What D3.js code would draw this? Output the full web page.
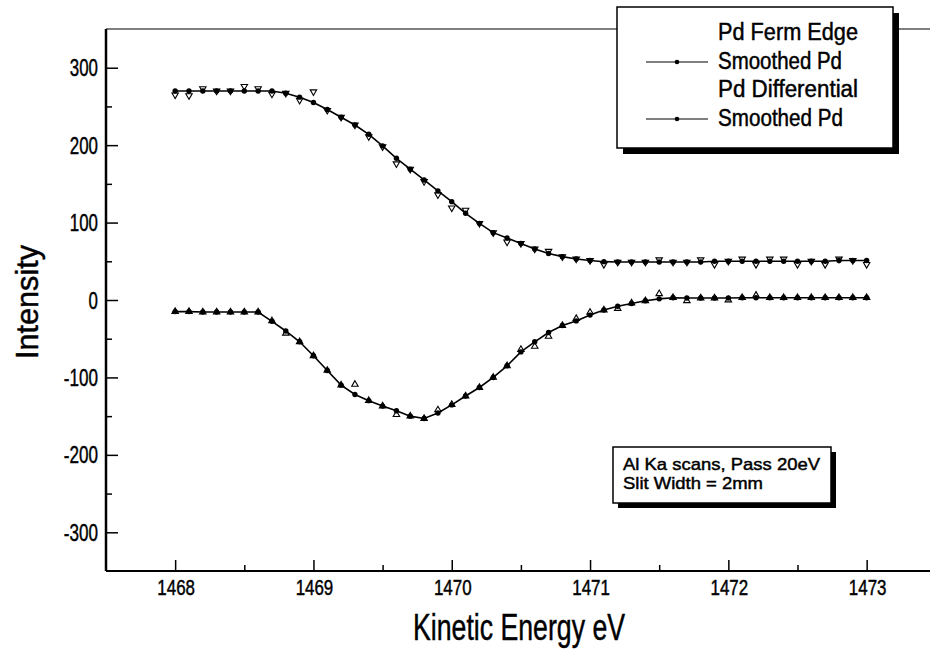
<!DOCTYPE html>
<html>
<head>
<meta charset="utf-8">
<script src="https://cdn.jsdelivr.net/npm/d3@7"></script>
<style>
  body { margin: 0; background: #fff; }
  svg text { font-family: "Liberation Sans", Arial, sans-serif; fill: #000; stroke: #000; stroke-width: 0.45; }
</style>
</head>
<body>
<svg id="chart"></svg>
<script>
var _WIDTH = 930,
  _HEIGHT = 652,
  _LEFT = 106,
  _TOP = 29,
  _BOTTOM = 571;

// kinetic energy (eV), one point every 0.1 eV
var energy = [1468.0, 1468.1, 1468.2, 1468.3, 1468.4, 1468.5, 1468.6, 1468.7, 1468.8, 1468.9,
  1469.0, 1469.1, 1469.2, 1469.3, 1469.4, 1469.5, 1469.6, 1469.7, 1469.8, 1469.9,
  1470.0, 1470.1, 1470.2, 1470.3, 1470.4, 1470.5, 1470.6, 1470.7, 1470.8, 1470.9,
  1471.0, 1471.1, 1471.2, 1471.3, 1471.4, 1471.5, 1471.6, 1471.7, 1471.8, 1471.9,
  1472.0, 1472.1, 1472.2, 1472.3, 1472.4, 1472.5, 1472.6, 1472.7, 1472.8, 1472.9,
  1473.0];

// Pd Fermi edge, raw and smoothed
var edgeRaw = [265, 264, 273, 270, 270, 276, 273, 266, 267, 258,
  269, 245, 236, 226, 211, 198, 176, 169, 153, 136,
  119, 116, 99, 87, 75, 73, 66, 63, 56, 53,
  51, 46, 49, 49, 49, 52, 49, 49, 52, 46,
  50, 53, 46, 53, 53, 46, 50, 46, 53, 51,
  46];
var edgeSmooth = [270, 270, 270, 270, 270, 270, 270, 270, 267, 262,
  255, 246, 236, 226, 214, 199, 183, 169, 155, 141,
  127, 112, 99, 87, 80, 73, 66, 60, 56, 53,
  51, 49.5, 49, 49, 49, 49, 49, 49, 49, 50,
  50, 50, 50, 50, 50, 50, 50, 50, 51, 51,
  51];

// Pd differential, raw and smoothed
var diffRaw = [-15, -15, -15.5, -15.5, -15.5, -15.5, -15.5, -27, -43, -54,
  -72, -91, -110, -109, -130, -137, -148, -150, -153, -142,
  -135, -124, -113, -100, -85, -64, -60, -47, -33, -24,
  -16, -13, -11, -4, -1, 8, 3, -1, 2.5, 2.5,
  0, 3, 6, 3, 3, 3, 3, 3, 3, 3,
  3];
var diffSmooth = [-15, -15, -15.5, -15.5, -15.5, -15.5, -15.5, -27.5, -40, -54,
  -72, -91, -110, -122, -130, -137, -143, -150, -153, -146,
  -135.5, -124, -113, -100, -85, -67, -54, -42, -33, -27,
  -19.5, -13, -8, -4.5, -1, 1.5, 3, 2.5, 2.5, 2.5,
  2.5, 3, 3, 3, 3, 3, 3, 3, 3, 3,
  3];

var xTicks = [1468, 1469, 1470, 1471, 1472, 1473];
var xMinor = [1468.5, 1469.5, 1470.5, 1471.5, 1472.5];
var yTicks = [-300, -200, -100, 0, 100, 200, 300];
var yMinor = [-250, -150, -50, 50, 150, 250];

var legendLabels = ["Pd Ferm Edge", "Smoothed Pd", "Pd Differential", "Smoothed Pd"];
var legendWidths = [140, 124, 140, 125];
var noteLines = ["Al Ka scans, Pass 20eV", "Slit Width = 2mm"];
var noteWidths = [197, 140];

var svg = d3.select('#chart')
  .attr('width', _WIDTH)
  .attr('height', _HEIGHT);

var x = d3.scaleLinear().domain([1467.5, 1473.5]).range([_LEFT, _LEFT + 6 * 138.3]);
var y = d3.scaleLinear().domain([-350, 350]).range([_BOTTOM, _TOP]);

// squeeze text to the narrow look of the scanned original
function squeeze(sel, w) {
  sel.attr('textLength', w).attr('lengthAdjust', 'spacingAndGlyphs');
}
function numWidth(d) {
  var s = String(d);
  return s.replace('-', '').length * 9.4 + (s.charAt(0) === '-' ? 6 : 0);
}

// frame
svg.append('line')
  .attr('x1', _LEFT).attr('x2', _WIDTH)
  .attr('y1', _TOP).attr('y2', _TOP)
  .attr('stroke', '#000').attr('stroke-width', 1.2);
svg.append('line')
  .attr('x1', _LEFT).attr('x2', _WIDTH)
  .attr('y1', _BOTTOM).attr('y2', _BOTTOM)
  .attr('stroke', '#000').attr('stroke-width', 2);
svg.append('line')
  .attr('x1', _LEFT).attr('x2', _LEFT)
  .attr('y1', _TOP).attr('y2', _BOTTOM)
  .attr('stroke', '#000').attr('stroke-width', 2.5);

// x axis (ticks point inward)
var xAxis = svg.append('g')
  .attr('transform', 'translate(0,' + _BOTTOM + ')')
  .call(d3.axisTop(x).tickValues(xTicks).tickSize(11).tickFormat(''));
xAxis.select('.domain').remove();
xAxis.selectAll('line').attr('stroke-width', 1.5);

svg.append('g')
  .attr('transform', 'translate(0,' + _BOTTOM + ')')
  .call(d3.axisTop(x).tickValues(xMinor).tickSize(6).tickFormat(''))
  .call(function(g) { g.select('.domain').remove(); })
  .selectAll('line').attr('stroke-width', 1.5);

svg.selectAll('.xlabel')
  .data(xTicks)
  .enter()
  .append('text')
  .attr('class', 'xlabel')
  .attr('x', function(d) { return x(d) + 1; })
  .attr('y', 595)
  .attr('text-anchor', 'middle')
  .attr('font-size', 22)
  .text(function(d) { return d; })
  .each(function(d) { squeeze(d3.select(this), numWidth(d)); });

// y axis
var yAxis = svg.append('g')
  .attr('transform', 'translate(' + _LEFT + ',0)')
  .call(d3.axisRight(y).tickValues(yTicks).tickSize(12).tickFormat(''));
yAxis.select('.domain').remove();
yAxis.selectAll('line').attr('stroke-width', 1.5);

svg.append('g')
  .attr('transform', 'translate(' + _LEFT + ',0)')
  .call(d3.axisRight(y).tickValues(yMinor).tickSize(6).tickFormat(''))
  .call(function(g) { g.select('.domain').remove(); })
  .selectAll('line').attr('stroke-width', 1.5);

svg.selectAll('.ylabel')
  .data(yTicks)
  .enter()
  .append('text')
  .attr('class', 'ylabel')
  .attr('x', 98)
  .attr('y', function(d) { return y(d) + 8.5; })
  .attr('text-anchor', 'end')
  .attr('font-size', 24)
  .text(function(d) { return d; })
  .each(function(d) { squeeze(d3.select(this), numWidth(d)); });

// axis titles
svg.append('text')
  .attr('x', 519)
  .attr('y', 640)
  .attr('text-anchor', 'middle')
  .attr('font-size', 36)
  .text('Kinetic Energy eV')
  .call(squeeze, 212);

svg.append('text')
  .attr('transform', 'translate(38,302) rotate(-90)')
  .attr('text-anchor', 'middle')
  .attr('font-size', 31)
  .text('Intensity')
  .call(squeeze, 114);

// curves
var line = d3.line()
  .x(function(d) { return x(d[0]); })
  .y(function(d) { return y(d[1]); });

function drawSeries(raw, smooth, flip) {
  var rawPts = d3.zip(energy, raw);
  var smoothPts = d3.zip(energy, smooth);

  svg.append('g')
    .selectAll('path')
    .data(rawPts)
    .enter()
    .append('path')
    .attr('d', d3.symbol().type(d3.symbolTriangle).size(18))
    .attr('fill', 'none')
    .attr('stroke', '#000')
    .attr('stroke-width', 1.1)
    .attr('transform', function(d) {
      return 'translate(' + x(d[0]) + ',' + y(d[1]) + ')' + (flip ? ' rotate(180)' : '');
    });

  svg.append('path')
    .datum(smoothPts)
    .attr('d', line)
    .attr('fill', 'none')
    .attr('stroke', '#000')
    .attr('stroke-width', 1.6);

  svg.append('g')
    .selectAll('circle')
    .data(smoothPts)
    .enter()
    .append('circle')
    .attr('cx', function(d) { return x(d[0]); })
    .attr('cy', function(d) { return y(d[1]); })
    .attr('r', 2.7)
    .attr('fill', '#000');
}

drawSeries(edgeRaw, edgeSmooth, true);
drawSeries(diffRaw, diffSmooth, false);

// legend box with drop shadow
var legend = svg.append('g');
legend.append('rect')
  .attr('x', 623).attr('y', 13)
  .attr('width', 276).attr('height', 141)
  .attr('fill', '#000');
legend.append('rect')
  .attr('x', 617).attr('y', 7)
  .attr('width', 276).attr('height', 141)
  .attr('fill', '#fff')
  .attr('stroke', '#000')
  .attr('stroke-width', 1.5);

legend.selectAll('text')
  .data(legendLabels)
  .enter()
  .append('text')
  .attr('x', 718)
  .attr('y', function(d, i) { return 40 + i * 28.5; })
  .attr('font-size', 23)
  .text(function(d) { return d; })
  .each(function(d, i) { squeeze(d3.select(this), legendWidths[i]); });

[1, 3].forEach(function(i) {
  var ly = 62 + (i - 1) * 28.5;
  legend.append('line')
    .attr('x1', 646).attr('x2', 708)
    .attr('y1', ly).attr('y2', ly)
    .attr('stroke', '#000').attr('stroke-width', 1.2);
  legend.append('circle')
    .attr('cx', 677).attr('cy', ly)
    .attr('r', 2.3)
    .attr('fill', '#000');
});

// scan note
var note = svg.append('g');
note.append('rect')
  .attr('x', 618).attr('y', 452)
  .attr('width', 218).attr('height', 56)
  .attr('fill', '#000');
note.append('rect')
  .attr('x', 613).attr('y', 447)
  .attr('width', 218).attr('height', 56)
  .attr('fill', '#fff')
  .attr('stroke', '#000')
  .attr('stroke-width', 1.5);

note.selectAll('text')
  .data(noteLines)
  .enter()
  .append('text')
  .attr('x', 623)
  .attr('y', function(d, i) { return 470 + i * 19; })
  .attr('font-size', 17)
  .text(function(d) { return d; })
  .each(function(d, i) { squeeze(d3.select(this), noteWidths[i]); });
</script>
</body>
</html>
